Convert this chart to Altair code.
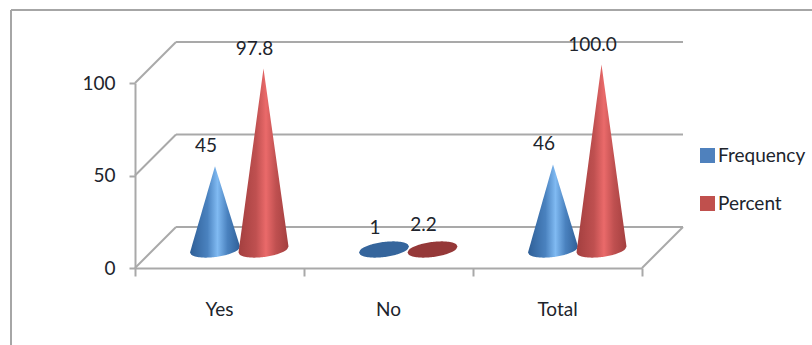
import altair as alt
import numpy as np
import pandas as pd

# Survey responses shown as cones
categories = ["Yes", "No", "Total"]
frequency = [45, 1, 46]
percent = [97.8, 2.2, 100.0]
series_names = ["Frequency", "Percent"]
y_ticks = [0, 50, 100]

# Geometry of the pseudo-3D scene, in axis units
BAND_PX = 169.0
SHIFT = {"Frequency": 0.5 - 4.5 / BAND_PX, "Percent": 0.5 + 44.0 / BAND_PX}
HALF_WIDTH = 25.0 / BAND_PX
FLOOR_LIFT = 10.0      # cones stand in the middle of the floor, not on the front edge
BASE_RY = 4.1          # minor radius of the base ellipse
BASE_TILT = 1.6        # the ellipse leans up towards the right
DEPTH = 41             # wall offset in pixels
GRID = "#a9a9a9"
INK = "#20242c"
FONT = "Lato"
FONT_SIZE = 19

rows, labels = [], []
for name, values in zip(series_names, [frequency, percent]):
    for i, (cat, v) in enumerate(zip(categories, values)):
        cx = i + SHIFT[name]
        apex = FLOOR_LIFT + v
        left = FLOOR_LIFT - BASE_TILT
        right = FLOOR_LIFT + BASE_TILT
        for t in np.concatenate([np.linspace(-1, 1, 41), [0.0]]):
            root = np.sqrt(max(0.0, 1 - t * t))
            axis_y = FLOOR_LIFT + BASE_TILT * t
            edge = left + (apex - left) * (t + 1) if t <= 0 else right + (apex - right) * (1 - t)
            rows.append({
                "cone": f"{name}-{cat}", "series": name, "value": v,
                "x": cx + HALF_WIDTH * t,
                "top": max(axis_y + BASE_RY * root, edge),
                "bottom": axis_y - BASE_RY * root,
            })
        labels.append({"series": name, "x": cx, "apex": apex,
                       "label": f"{v:.1f}" if name == "Percent" else f"{v:d}"})

cones = pd.DataFrame(rows).sort_values(["cone", "x"])
value_labels = pd.DataFrame(labels)
walls = pd.DataFrame({"y": y_ticks, "x0": [0] * 3, "x1": [3] * 3})
floor_right = pd.DataFrame({"y": [0], "x0": [3]})
cats = pd.DataFrame({"x": [i + 0.5 for i in range(3)], "cat": categories})
legend_df = pd.DataFrame({"series": series_names, "x": [0, 0], "y": [0, 0]})

x_scale = alt.Scale(domain=[0, 3], nice=False, zero=False)
y_scale = alt.Scale(domain=[0, 100], nice=False)
x_axis = alt.Axis(
    values=[0, 1, 2, 3], labels=False, title=None, grid=False,
    domainColor=GRID, domainWidth=2, tickColor=GRID, tickWidth=2, tickSize=8)
y_axis = alt.Axis(
    values=y_ticks, title=None, grid=False, format="d",
    domainColor=GRID, domainWidth=2, tickColor=GRID, tickWidth=2, tickSize=6,
    labelFont=FONT, labelFontSize=FONT_SIZE, labelColor=INK, labelPadding=14)


def X(field="x:Q"):
    return alt.X(field, scale=x_scale, axis=x_axis)


def Y(field="y:Q"):
    return alt.Y(field, scale=y_scale, axis=y_axis)


def gradient(edge, mid, glow, dark):
    return alt.Gradient(
        gradient="linear", x1=0, x2=1, y1=0, y2=0,
        stops=[
            alt.GradientStop(color=edge, offset=0),
            alt.GradientStop(color=mid, offset=0.35),
            alt.GradientStop(color=glow, offset=0.55),
            alt.GradientStop(color=mid, offset=0.75),
            alt.GradientStop(color=dark, offset=1),
        ],
    )


def cone_layer(series, fill):
    return (
        alt.Chart(cones[(cones.series == series) & (cones.value >= 5)])
        .mark_area(orient="vertical", color=fill)
        .encode(x=X(), y=Y("top:Q"), y2="bottom:Q", detail="cone:N")
    )


def flat_layer(series, fill):
    return (
        alt.Chart(cones[(cones.series == series) & (cones.value < 5)])
        .mark_area(orient="vertical", color=fill)
        .encode(x=X(), y=Y("top:Q"), y2="bottom:Q", detail="cone:N")
    )


back_lines = (
    alt.Chart(walls)
    .mark_rule(color=GRID, strokeWidth=2, xOffset=DEPTH, x2Offset=DEPTH, yOffset=-DEPTH)
    .encode(x=X("x0:Q"), x2="x1:Q", y=Y())
)
side_lines = (
    alt.Chart(walls)
    .mark_rule(color=GRID, strokeWidth=2, x2Offset=DEPTH, y2Offset=-DEPTH)
    .encode(x=X("x0:Q"), x2="x0:Q", y=Y(), y2="y:Q")
)
floor_side = (
    alt.Chart(floor_right)
    .mark_rule(color=GRID, strokeWidth=2, x2Offset=DEPTH, y2Offset=-DEPTH)
    .encode(x=X("x0:Q"), x2="x0:Q", y=Y(), y2="y:Q")
)

value_text = (
    alt.Chart(value_labels)
    .mark_text(font=FONT, fontSize=FONT_SIZE, color=INK, dx=-9, dy=-20, baseline="middle")
    .encode(x=X(), y=Y("apex:Q"), text="label:N")
)
cat_text = (
    alt.Chart(cats)
    .mark_text(font=FONT, fontSize=FONT_SIZE, color=INK, baseline="middle")
    .encode(x=X(), y=alt.value(227), text="cat:N")
)
legend_layer = (
    alt.Chart(legend_df)
    .mark_point(size=0, filled=True)
    .encode(
        x=X(), y=Y(),
        color=alt.Color(
            "series:N",
            scale=alt.Scale(domain=series_names, range=["#4F81BD", "#C0504D"]),
            legend=alt.Legend(
                title=None, orient="none", legendX=563, legendY=63,
                symbolType="square", symbolSize=225, symbolOpacity=1,
                symbolStrokeWidth=0, labelFont=FONT, labelFontSize=FONT_SIZE,
                labelColor=INK, rowPadding=28, labelOffset=1, padding=0,
            ),
        ),
    )
)
frame_top = alt.Chart(legend_df).mark_rule(color="#a6a6a6", strokeWidth=2).encode(
    x=alt.value(-124), x2=alt.value(677), y=alt.value(-73))
frame_left = alt.Chart(legend_df).mark_rule(color="#a6a6a6", strokeWidth=2).encode(
    x=alt.value(-124), y=alt.value(-73), y2=alt.value(262))

blue = gradient("#2f5f97", "#4a82bf", "#80baf2", "#2f5f97")
red = gradient("#a33f3f", "#bf5050", "#ea6a6a", "#a33f3f")

chart = alt.layer(
    frame_top, frame_left, back_lines, side_lines, floor_side, legend_layer,
    flat_layer("Frequency", "#35659c"), flat_layer("Percent", "#953838"),
    cone_layer("Frequency", blue), cone_layer("Percent", red),
    value_text, cat_text,
).resolve_scale(x="shared", y="shared").properties(
    width=507, height=185, autosize="none",
    padding={"left": 135, "right": 170, "top": 83, "bottom": 77},
    background="white",
).configure_view(stroke=None)

chart.save("out.html", embed_options={"renderer": "svg", "actions": False})
